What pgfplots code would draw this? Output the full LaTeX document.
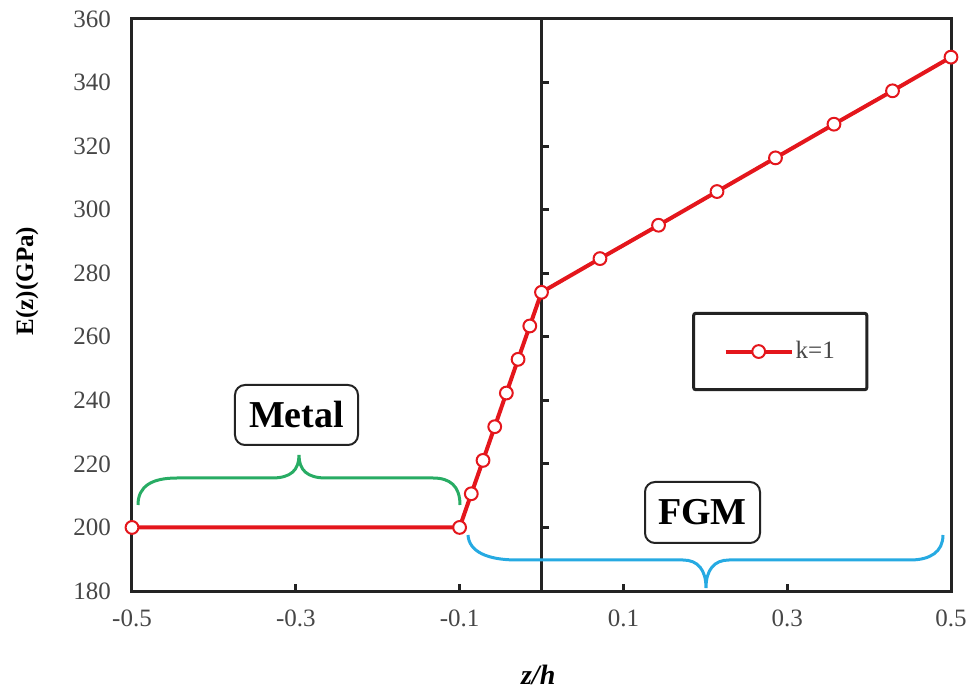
\documentclass[border=0pt]{standalone}
\usepackage{fontspec}
\setmainfont{Liberation Serif}
\usepackage{pgfplots}
\pgfplotsset{compat=1.18}
\definecolor{myred}{RGB}{228,22,28}
\definecolor{mygreen}{RGB}{40,172,100}
\definecolor{myblue}{RGB}{38,170,226}
\definecolor{axgray}{RGB}{35,35,35}
\definecolor{lblgray}{RGB}{70,70,70}
\begin{document}
\begin{tikzpicture}
\begin{axis}[
  at={(0,0)}, anchor=south west,
  scale only axis, width=409.5pt, height=286pt,
  xmin=-0.5, xmax=0.5, ymin=180, ymax=360,
  clip=false,
  axis line style={axgray, line width=1.5pt},
  xtick={-0.5,-0.3,-0.1,0.1,0.3,0.5},
  xticklabels={-0.5,-0.3,-0.1,0.1,0.3,0.5},
  ytick={180,200,220,240,260,280,300,320,340,360},
  yticklabels={180,200,220,240,260,280,300,320,340,360},
  tick align=inside,
  xtick pos=bottom,
  major tick length=3.5pt,
  xtick style={axgray, line width=1.5pt},
  ytick style={draw=none},
  ticklabel style={font=\fontsize{12.5}{12.5}\selectfont, text=lblgray},
  xticklabel style={yshift=-6pt},
  yticklabel style={xshift=-7pt},
  xlabel={\textbf{\textit{z/h}}},
  xlabel style={font=\fontsize{14}{14}\selectfont, at={(axis description cs:0.496,-0.147)}, anchor=center},
  ylabel={\textbf{E(z)(GPa)}},
  ylabel style={font=\fontsize{12.5}{12.5}\selectfont, at={(axis description cs:-0.128,0.542)}, anchor=center},
  legend style={at={(rel axis cs:0.684,0.488)}, anchor=north west, draw=axgray, line width=1.5pt,
    rounded corners=1pt, inner xsep=15pt, inner ysep=13pt,
    nodes={inner sep=1pt, font=\fontsize{12.5}{12.5}\selectfont, text=lblgray}},
  legend image code/.code={\draw[mark repeat=2, mark phase=2, #1] plot coordinates {(0pt,0pt) (16.5pt,0pt) (33pt,0pt)};},
]
\draw[axgray, line width=1.5pt] (axis cs:0,180) -- (axis cs:0,360);
\pgfplotsinvokeforeach{200,220,240,260,280,300,320,340}{
  \draw[axgray, line width=1.5pt] (axis cs:0,#1) -- ++(3.5pt,0pt);
}
\addplot[myred, line width=2pt, mark=*, mark size=3.2pt,
  mark options={fill=white, draw=myred, line width=1pt, solid}]
coordinates {
(-0.5,200) (-0.1,200)
(-0.0857,210.6) (-0.0714,221.1) (-0.0571,231.7) (-0.0429,242.3) (-0.0286,252.9) (-0.0143,263.4) (0,274)
(0.0714,284.6) (0.1429,295.1) (0.2143,305.7) (0.2857,316.3) (0.3571,326.9) (0.4286,337.4) (0.5,348)
};
\addlegendentry{k=1}
\end{axis}
\begin{scope}[shift={(-66pt,295.5pt)}, x=0.5pt, y=-0.5pt]
\draw[mygreen, line width=1.5pt] (138,505) .. controls (138,486) and (152,478) .. (177,478) -- (272,478)
  .. controls (291,478) and (299,470) .. (299,455) .. controls (299,470) and (307,478) .. (326,478)
  -- (433,478) .. controls (450,478) and (460,486) .. (460,505);
\draw[myblue, line width=1.5pt] (468,535) .. controls (469,552) and (488,560) .. (517,560) -- (683,560)
  .. controls (698,560) and (706,570) .. (706,588) .. controls (706,570) and (714,560) .. (729,560)
  -- (910,560) .. controls (930,560) and (943,552) .. (943,535);
\node[draw=axgray, line width=1pt, rounded corners=5pt, minimum width=61.5pt, minimum height=30pt,
  inner sep=0pt, font=\bfseries\fontsize{19}{19}\selectfont] at (296.5,415) {Metal};
\node[draw=axgray, line width=1pt, rounded corners=5pt, fill=white, minimum width=57.5pt, minimum height=30.5pt,
  inner sep=0pt, font=\bfseries\fontsize{19}{19}\selectfont] at (702.5,512.5) {FGM};
\pgfresetboundingbox
\useasboundingbox (0,0) rectangle (970,691);
\end{scope}
\end{tikzpicture}
\end{document}
